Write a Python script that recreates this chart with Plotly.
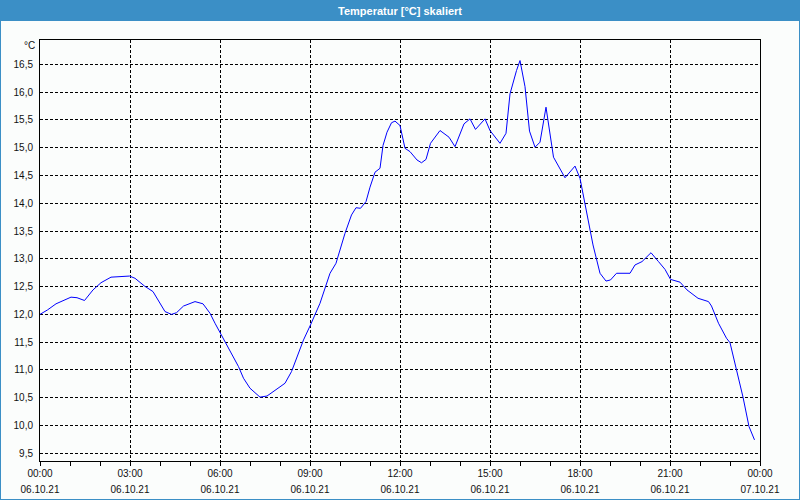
import plotly.graph_objects as go

DAY = "2021-10-06"
times = ["00:00","00:15","00:32","00:48","01:02","01:14","01:29","01:46","02:02","02:22",
         "02:59","03:10","03:29","03:46","03:56","04:10","04:23","04:33","04:47","05:10",
         "05:26","05:40","05:50","06:04","06:20","06:37","06:47","07:00","07:20","07:34",
         "07:56","08:10","08:23","08:34","08:47","09:01","09:20","09:40","09:52","10:10",
         "10:23","10:32","10:41","10:52","11:00","11:10","11:20","11:26","11:34","11:43",
         "11:50","12:00","12:10","12:20","12:34","12:43","12:52","13:01","13:20","13:38",
         "13:50","14:08","14:20","14:31","14:50","15:00","15:20","15:32","15:40","15:53",
         "16:00","16:10","16:19","16:30","16:40","16:52","16:56","17:07","17:30","17:50",
         "18:00","18:13","18:26","18:40","18:52","19:01","19:13","19:40","19:50","20:04",
         "20:22","20:37","20:50","21:01","21:20","21:34","21:56","22:17","22:23","22:37",
         "22:53","23:00","23:13","23:26","23:38","23:43","23:49"]
temps = [12.00,12.08,12.19,12.26,12.31,12.30,12.25,12.44,12.57,12.67,
         12.69,12.65,12.51,12.41,12.26,12.05,12.00,12.03,12.15,12.23,
         12.19,12.02,11.84,11.60,11.33,11.06,10.85,10.67,10.51,10.53,
         10.67,10.76,10.97,11.24,11.54,11.81,12.20,12.74,12.92,13.46,
         13.79,13.92,13.91,14.03,14.29,14.56,14.63,15.04,15.28,15.45,
         15.48,15.40,14.99,14.93,14.78,14.73,14.79,15.08,15.31,15.19,
         15.02,15.43,15.52,15.33,15.52,15.31,15.08,15.26,15.97,16.39,
         16.57,16.10,15.30,15.01,15.10,15.73,15.49,14.83,14.46,14.67,
         14.45,13.88,13.25,12.74,12.60,12.62,12.74,12.74,12.89,12.95,
         13.11,12.95,12.81,12.63,12.58,12.44,12.29,12.23,12.15,11.84,
         11.57,11.49,10.99,10.51,9.98,9.86,9.74]

x_vals = [f"{DAY} {t}" for t in times]
title_text = "Temperatur [°C] skaliert"
unit_text = "°C"
x_range = ["2021-10-06 00:00", "2021-10-07 00:00"]
y_range = [9.36, 16.94]

BLUE = "#3b8fc6"
BG = "#fbfdfc"
FONT = "Liberation Sans"
TXT = "#111111"

fig = go.Figure()
fig.add_trace(go.Scatter(x=x_vals, y=temps, mode="lines",
                         line=dict(color="#0000ff", width=1), showlegend=False))
fig.add_trace(go.Scatter(x=x_vals, y=temps, mode="lines", xaxis="x2",
                         line=dict(color="rgba(0,0,0,0)", width=0),
                         hoverinfo="skip", showlegend=False))

W, H = 800, 500
L, R, T, B = 40, 40, 40, 39
pw, ph = W - L - R, H - T - B
def px(xp): return (xp - L) / pw
def py(yp): return (H - B - yp) / ph

fig.update_layout(
    width=W, height=H,
    margin=dict(l=L, r=R, t=T, b=B, pad=0, autoexpand=False),
    paper_bgcolor=BG, plot_bgcolor=BG,
    separators=",.",
    font=dict(family=FONT, size=10, color=TXT),
    xaxis=dict(type="date", range=x_range, tickformat="%H:%M",
               tickmode="linear", tick0="2021-10-06", dtick=3 * 3600000,
               showgrid=True, gridcolor="black", gridwidth=1, griddash="3px,2px",
               ticks="outside", ticklen=4, tickcolor="black",
               minor=dict(tickmode="linear", tick0="2021-10-06", dtick=3600000,
                          ticks="outside", ticklen=4, tickcolor="black", showgrid=False),
               showline=True, linecolor="black", linewidth=1, mirror=True,
               zeroline=False, ticklabelstandoff=-1, automargin=False,
               tickfont=dict(family=FONT, size=10, color=TXT)),
    xaxis2=dict(type="date", range=x_range, overlaying="x", anchor="y", side="bottom",
                tickformat="%d.%m.%y", tickmode="linear", tick0="2021-10-06",
                dtick=3 * 3600000, showgrid=False, ticks="", showline=False,
                zeroline=False, ticklabelstandoff=21, automargin=False,
                tickfont=dict(family=FONT, size=10, color=TXT)),
    yaxis=dict(range=y_range, tickmode="linear", tick0=9.5, dtick=0.5, tickformat=".1f",
               showgrid=True, gridcolor="black", gridwidth=1, griddash="3px,2px",
               ticks="", showline=True, linecolor="black", linewidth=1, mirror=True,
               zeroline=False, ticklabelstandoff=4, automargin=False,
               tickfont=dict(family=FONT, size=10, color=TXT)),
    shapes=[
        dict(type="rect", xref="paper", yref="paper",
             x0=px(0), x1=px(W), y0=py(21), y1=py(0),
             fillcolor=BLUE, line=dict(width=0), layer="above"),
        dict(type="rect", xref="paper", yref="paper",
             x0=px(0), x1=px(W), y0=py(H), y1=py(0),
             fillcolor="rgba(0,0,0,0)", line=dict(color=BLUE, width=2), layer="above"),
    ],
    annotations=[
        dict(text=title_text, xref="paper", yref="paper", x=px(400), y=py(10.5),
             xanchor="center", yanchor="middle", showarrow=False,
             font=dict(family=FONT, size=11, color="white", weight="bold")),
        dict(text=unit_text, xref="paper", yref="paper", x=px(37), y=py(45),
             xanchor="right", yanchor="middle", showarrow=False,
             font=dict(family=FONT, size=10, color=TXT)),
    ],
)

fig.write_html("out.html")
